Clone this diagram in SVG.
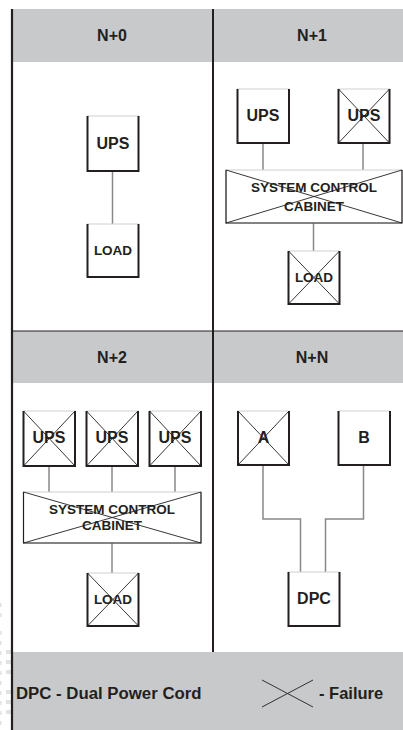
<svg xmlns="http://www.w3.org/2000/svg" width="403" height="730" viewBox="0 0 403 730">
<style>
.bg{fill:#c8c9cb}
.t{font-family:"Liberation Sans",Arial,sans-serif;font-weight:bold;fill:#231f20;text-anchor:middle;dominant-baseline:central}
.h{font-size:16px}
.u{font-size:16px}
.s{font-size:13.5px}
.boxt{fill:#fff;stroke:#d0d0d0;stroke-width:1}
.side{fill:none;stroke:#231f20;stroke-width:2}
.x{stroke:#231f20;stroke-width:0.9;fill:none}
.c{stroke:#888;stroke-width:1.5;fill:none}
.frame{stroke:#231f20;fill:none}
.wm{fill:#e2e2e2}
</style>
<rect width="403" height="730" fill="#fff"/>
<g id="watermark">
<rect class="wm" x="6" y="650" width="5" height="4"/>
<rect class="wm" x="6" y="660" width="5" height="4"/>
<rect class="wm" x="6" y="670" width="5" height="4"/>
<rect class="wm" x="6" y="690" width="5" height="4"/>
<rect class="wm" x="6" y="700" width="5" height="4"/>
<rect class="wm" x="6" y="710" width="5" height="4"/>
<rect class="wm" x="0" y="603" width="1.5" height="4"/>
<rect class="wm" x="0" y="613" width="1.5" height="4"/>
<rect class="wm" x="0" y="631" width="1.5" height="4"/>
<rect class="wm" x="0" y="641" width="1.5" height="4"/>
<rect class="wm" x="0" y="651" width="1.5" height="4"/>
<rect class="wm" x="0" y="661" width="1.5" height="4"/>
<rect class="wm" x="0" y="671" width="1.5" height="4"/>
<rect class="wm" x="0" y="681" width="1.5" height="4"/>
<rect class="wm" x="0" y="691" width="1.5" height="4"/>
<rect class="wm" x="0" y="701" width="1.5" height="4"/>
<rect class="wm" x="0" y="711" width="1.5" height="4"/>
<rect class="wm" x="0" y="721" width="1.5" height="4"/>
</g>
<g id="panels">
<rect class="bg" x="12" y="9" width="391" height="53"/>
<rect class="bg" x="12" y="331" width="391" height="52"/>
<rect class="bg" x="12" y="652" width="391" height="78"/>
<line class="frame" x1="12" y1="331" x2="403" y2="331" stroke-width="1"/>
<line class="frame" x1="12" y1="9" x2="12" y2="730" stroke-width="2.2"/>
<line class="frame" x1="213" y1="9" x2="213" y2="652" stroke-width="2"/>
<text class="t h" x="112" y="35">N+0</text>
<text class="t h" x="312" y="35">N+1</text>
<text class="t h" x="112" y="357">N+2</text>
<text class="t h" x="312" y="357">N+N</text>
</g>
<g id="connectors">
<line class="c" x1="112.5" y1="171" x2="112.5" y2="224"/>
<line class="c" x1="263" y1="143" x2="263" y2="170"/>
<line class="c" x1="363" y1="143" x2="363" y2="170"/>
<line class="c" x1="313.5" y1="223" x2="313.5" y2="251"/>
<line class="c" x1="49" y1="466" x2="49" y2="492"/>
<line class="c" x1="112" y1="466" x2="112" y2="492"/>
<line class="c" x1="175" y1="466" x2="175" y2="492"/>
<line class="c" x1="112" y1="543" x2="112" y2="573"/>
<polyline class="c" points="263,465 263,519 300.5,519 300.5,572"/>
<polyline class="c" points="363.5,465 363.5,519 325.5,519 325.5,572"/>
</g>
<g id="n0-ups">
<rect class="boxt" x="87.5" y="116" width="51" height="55"/>
<polyline class="side" points="87.5,116 87.5,171 138.5,171 138.5,116"/>
<text class="t u" x="113" y="143">UPS</text>
</g>
<g id="n0-load">
<rect class="boxt" x="87.5" y="224" width="51" height="53"/>
<polyline class="side" points="87.5,224 87.5,277 138.5,277 138.5,224"/>
<text class="t s" x="113" y="250">LOAD</text>
</g>
<g id="n1-ups1">
<rect class="boxt" x="237.5" y="89" width="51.5" height="54"/>
<polyline class="side" points="237.5,89 237.5,143 289,143 289,89"/>
<text class="t u" x="263" y="115">UPS</text>
</g>
<g id="n1-ups2">
<rect class="boxt" x="338.5" y="89" width="51" height="54"/>
<polyline class="side" points="338.5,89 338.5,143 389.5,143 389.5,89"/>
<text class="t u" x="364" y="115">UPS</text>
<path class="x" d="M338.5,89 L389.5,143 M389.5,89 L338.5,143"/>
</g>
<g id="n1-cabinet">
<rect x="226" y="170" width="176" height="53" fill="#fff" stroke="#d0d0d0" stroke-width="1"/>
<polyline points="226,170 226,223 402,223 402,170" fill="none" stroke="#231f20" stroke-width="1.2"/>
<text class="t s" x="314" y="187">SYSTEM CONTROL</text>
<text class="t s" x="314" y="206">CABINET</text>
<path class="x" d="M226,170 L402,223 M402,170 L226,223"/>
</g>
<g id="n1-load">
<rect class="boxt" x="288.5" y="251" width="51" height="53"/>
<polyline class="side" points="288.5,251 288.5,304 339.5,304 339.5,251"/>
<text class="t s" x="314" y="277">LOAD</text>
<path class="x" d="M288.5,251 L339.5,304 M339.5,251 L288.5,304"/>
</g>
<g id="n2-ups1">
<rect class="boxt" x="23.5" y="411" width="51.5" height="55"/>
<polyline class="side" points="23.5,411 23.5,466 75,466 75,411"/>
<text class="t u" x="49" y="437">UPS</text>
<path class="x" d="M23.5,411 L75,466 M75,411 L23.5,466"/>
</g>
<g id="n2-ups2">
<rect class="boxt" x="86.5" y="411" width="51.5" height="55"/>
<polyline class="side" points="86.5,411 86.5,466 138,466 138,411"/>
<text class="t u" x="112" y="437">UPS</text>
<path class="x" d="M86.5,411 L138,466 M138,411 L86.5,466"/>
</g>
<g id="n2-ups3">
<rect class="boxt" x="149.5" y="411" width="51.5" height="55"/>
<polyline class="side" points="149.5,411 149.5,466 201,466 201,411"/>
<text class="t u" x="175" y="437">UPS</text>
<path class="x" d="M149.5,411 L201,466 M201,411 L149.5,466"/>
</g>
<g id="n2-cabinet">
<rect x="23.5" y="492" width="177.5" height="51" fill="#fff" stroke="#d0d0d0" stroke-width="1"/>
<polyline points="23.5,492 23.5,543 201,543 201,492" fill="none" stroke="#231f20" stroke-width="1.2"/>
<text class="t s" x="112" y="509">SYSTEM CONTROL</text>
<text class="t s" x="112" y="525">CABINET</text>
<path class="x" d="M23.5,492 L201,543 M201,492 L23.5,543"/>
</g>
<g id="n2-load">
<rect class="boxt" x="87.5" y="573" width="51" height="53"/>
<polyline class="side" points="87.5,573 87.5,626 138.5,626 138.5,573"/>
<text class="t s" x="113" y="599">LOAD</text>
<path class="x" d="M87.5,573 L138.5,626 M138.5,573 L87.5,626"/>
</g>
<g id="nn-a">
<rect class="boxt" x="238" y="411" width="51" height="54"/>
<polyline class="side" points="238,411 238,465 289,465 289,411"/>
<text class="t u" x="263.5" y="437">A</text>
<path class="x" d="M238,411 L289,465 M289,411 L238,465"/>
</g>
<g id="nn-b">
<rect class="boxt" x="338.5" y="411" width="51.5" height="54"/>
<polyline class="side" points="338.5,411 338.5,465 390,465 390,411"/>
<text class="t u" x="364" y="437">B</text>
</g>
<g id="nn-dpc">
<rect class="boxt" x="288.5" y="572" width="51" height="54"/>
<polyline class="side" points="288.5,572 288.5,626 339.5,626 339.5,572"/>
<text class="t u" x="314" y="598">DPC</text>
</g>
<g id="legend">
<text class="t" x="16" y="693" style="font-size:16.8px;text-anchor:start">DPC - Dual Power Cord</text>
<path class="x" d="M262,680 L313,707 M262,707 L313,680"/>
<text class="t" x="319" y="693" style="font-size:16.5px;text-anchor:start">- Failure</text>
</g>
</svg>
